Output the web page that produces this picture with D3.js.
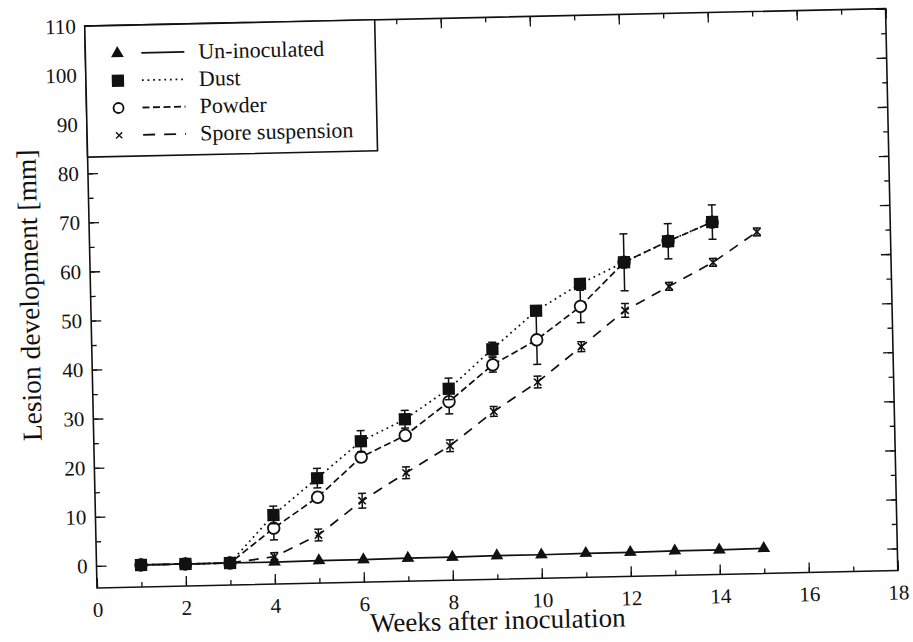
<!DOCTYPE html>
<html>
<head>
<meta charset="utf-8">
<script src="https://cdn.jsdelivr.net/npm/d3@7"></script>
<style>
    body { margin: 0; background: #fff; }
    #chart-area { width: 913px; height: 642px; }
    text { font-family: "Liberation Serif", "Times New Roman", serif; fill: #111; }
</style>
</head>
<body>
<div id="chart-area"></div>
<script>

// weeks after inoculation
const weeks = [1, 2, 3, 4, 5, 6, 7, 8, 9, 10, 11, 12, 13, 14, 15];

// lesion development [mm]
const uninoculated = [0, 0, 0, 0, 0.1, 0.1, 0.2, 0.2, 0.3, 0.3, 0.4, 0.4, 0.5, 0.5, 0.6];

const dust    = [0, 0, 0, 9.6, 16.9, 24.2, 28.5, 34.5, 42.4, 50.0, 55.3, 59.5, 63.6, 67.3];
const dustErr = [0, 0.3, 0, 1.8, 2.0, 2.2, 1.8, 2.2, 1.4, 0.9, 0.7, 5.8, 3.6, 3.5];

const powder    = [0, 0, 0, 6.9, 13.0, 21.0, 25.2, 31.9, 39.2, 44.1, 50.7, 59.5, 63.6, 67.3];
const powderErr = [0, 0, 0, 2.4, 1.0, 1.0, 1.0, 2.5, 1.5, 5.0, 3.3, 0, 0, 0];

const spore    = [0, 0, 0, 1.1, 5.3, 12.1, 17.6, 22.9, 29.7, 35.5, 42.5, 49.7, 54.4, 59.1, 65.1];
const sporeErr = [0, 0, 0, 0.8, 1.2, 1.5, 1.2, 1.2, 1.0, 1.2, 1.0, 1.4, 0.8, 0.8, 0.8];

// tick labels
const xTicks = [0, 2, 4, 6, 8, 10, 12, 14, 16, 18];
const xMinorTicks = d3.range(0, 19, 1);
const yTicks = [0, 10, 20, 30, 40, 50, 60, 70, 80, 90, 100, 110];
const yMinorTicks = d3.range(0, 111, 5);

const legendLabels = ["Un-inoculated", "Dust", "Powder", "Spore suspension"];


class LesionChart {

    constructor(parentElement) {
        this.parentElement = parentElement;
        this.initVis();
    }

    initVis() {
        let vis = this;

        vis.width = 913;
        vis.height = 642;
        vis.plot = {left: 97, right: 898, top: 26, bottom: 588};

        vis.svg = d3.select("#" + vis.parentElement).append("svg")
            .attr("width", vis.width)
            .attr("height", vis.height);

        // the scanned figure is tilted a little, so turn the whole chart with it
        vis.g = vis.svg.append("g")
            .attr("transform", `rotate(-1.25, ${vis.plot.left}, ${vis.plot.bottom})`);

        // add scales
        vis.x = d3.scaleLinear()
            .domain([0, 18])
            .range([vis.plot.left, vis.plot.right]);

        vis.y = d3.scaleLinear()
            .domain([-4.5, 110])
            .range([vis.plot.bottom, vis.plot.top]);

        vis.wrangleData();
    }

    wrangleData() {
        let vis = this;

        let build = (vals, errs) => vals.map((v, i) => ({week: weeks[i], value: v, err: errs ? errs[i] : 0}));

        vis.series = [
            {key: "un", data: build(uninoculated, null), dash: null, symbol: d3.symbolTriangle, size: 70},
            {key: "spore", data: build(spore, sporeErr), dash: "10,8", symbol: d3.symbolTimes || d3.symbolX, size: 36},
            {key: "powder", data: build(powder, powderErr), dash: "7,3.5", symbol: d3.symbolCircle, size: 0},
            {key: "dust", data: build(dust, dustErr), dash: "1.8,3.8", symbol: d3.symbolSquare, size: 150}
        ];

        vis.updateVis();
    }

    drawMarker(sel, s) {
        if (s.key === "powder") {
            sel.append("circle")
                .attr("r", 5.8)
                .attr("fill", "#fff")
                .attr("stroke", "#111")
                .attr("stroke-width", 1.8);
        } else if (s.key === "spore") {
            sel.append("path")
                .attr("d", d3.symbol().type(s.symbol).size(s.size))
                .attr("fill", "none")
                .attr("stroke", "#111")
                .attr("stroke-width", 1.6);
        } else {
            sel.append("path")
                .attr("d", d3.symbol().type(s.symbol).size(s.size))
                .attr("fill", "#111");
        }
    }

    updateVis() {
        let vis = this;

        // axes with inward ticks on all four sides
        let axes = [
            {axis: d3.axisBottom(vis.x), pos: `translate(0,${vis.plot.bottom})`, major: xTicks, minor: xMinorTicks, label: true},
            {axis: d3.axisTop(vis.x), pos: `translate(0,${vis.plot.top})`, major: xTicks, minor: xMinorTicks, label: false},
            {axis: d3.axisLeft(vis.y), pos: `translate(${vis.plot.left},0)`, major: yTicks, minor: yMinorTicks, label: true},
            {axis: d3.axisRight(vis.y), pos: `translate(${vis.plot.right},0)`, major: yTicks, minor: yMinorTicks, label: false}
        ];

        axes.forEach((a, i) => {
            // minor ticks first, no labels
            vis.g.append("g")
                .attr("class", "axis minor")
                .attr("transform", a.pos)
                .call(a.axis.tickValues(a.minor).tickSize(-5).tickFormat(""))
                .call(g => g.select(".domain").remove());

            vis.g.append("g")
                .attr("class", "axis major")
                .attr("transform", a.pos)
                .call(a.axis.tickValues(a.major).tickSize(-10)
                    .tickPadding(i < 2 ? 14 : 9)
                    .tickFormat(a.label ? d3.format("d") : ""))
                .call(g => g.select(".domain").remove());
        });

        vis.g.selectAll(".axis line")
            .attr("stroke", "#111")
            .attr("stroke-width", 1.3);

        vis.g.selectAll(".axis text")
            .attr("font-size", 21)
            .attr("font-family", "Liberation Serif, serif")
            .attr("fill", "#111");

        // plot frame
        vis.g.append("rect")
            .attr("x", vis.plot.left)
            .attr("y", vis.plot.top)
            .attr("width", vis.plot.right - vis.plot.left)
            .attr("height", vis.plot.bottom - vis.plot.top)
            .attr("fill", "none")
            .attr("stroke", "#111")
            .attr("stroke-width", 1.6);

        // axis titles
        vis.g.append("text")
            .attr("x", 497)
            .attr("y", 638)
            .attr("text-anchor", "middle")
            .attr("font-size", 27)
            .text("Weeks after inoculation");

        vis.g.append("text")
            .attr("transform", "translate(45,294) rotate(-90)")
            .attr("text-anchor", "middle")
            .attr("font-size", 27.5)
            .text("Lesion development [mm]");

        // lines
        let line = d3.line()
            .x(d => vis.x(d.week))
            .y(d => vis.y(d.value));

        vis.g.selectAll(".series-line")
            .data(vis.series)
            .enter().append("path")
            .attr("class", "series-line")
            .attr("d", d => line(d.data))
            .attr("fill", "none")
            .attr("stroke", "#111")
            .attr("stroke-width", 1.7)
            .attr("stroke-dasharray", d => d.dash);

        // error bars and markers, drawn series by series so dust ends on top
        vis.series.forEach(s => {
            let grp = vis.g.append("g").attr("class", "series-" + s.key);

            let withErr = s.data.filter(d => d.err > 0);

            let bars = grp.selectAll(".err")
                .data(withErr)
                .enter().append("g")
                .attr("class", "err")
                .attr("stroke", "#111")
                .attr("stroke-width", 1.5);

            bars.append("line")
                .attr("x1", d => vis.x(d.week))
                .attr("x2", d => vis.x(d.week))
                .attr("y1", d => vis.y(d.value - d.err))
                .attr("y2", d => vis.y(d.value + d.err));

            [-1, 1].forEach(sign => {
                bars.append("line")
                    .attr("x1", d => vis.x(d.week) - 4)
                    .attr("x2", d => vis.x(d.week) + 4)
                    .attr("y1", d => vis.y(d.value + sign * d.err))
                    .attr("y2", d => vis.y(d.value + sign * d.err));
            });

            grp.selectAll(".marker")
                .data(s.data)
                .enter().append("g")
                .attr("class", "marker")
                .attr("transform", d => `translate(${vis.x(d.week)},${vis.y(d.value)})`)
                .each(function () {
                    vis.drawMarker(d3.select(this), s);
                });
        });

        // legend box in the upper left corner
        let legend = vis.g.append("g").attr("class", "legend");

        legend.append("rect")
            .attr("x", vis.plot.left)
            .attr("y", vis.plot.top)
            .attr("width", 290)
            .attr("height", 131)
            .attr("fill", "#fff")
            .attr("stroke", "#111")
            .attr("stroke-width", 1.6);

        let legendOrder = ["un", "dust", "powder", "spore"];
        let legendDash = {un: null, dust: "1.8,3.8", powder: "7,3.5", spore: "12,9"};

        legendOrder.forEach((key, i) => {
            let s = vis.series.find(d => d.key === key);
            let yPos = 54 + i * 27.3;
            let item = legend.append("g").attr("transform", `translate(0,${yPos})`);

            let m = item.append("g").attr("transform", `translate(129,0)`);
            vis.drawMarker(m, s);
            if (key === "spore") m.attr("transform", "translate(129,0) scale(0.85)");
            if (key === "powder") m.select("circle").attr("r", 5);

            item.append("line")
                .attr("x1", 153)
                .attr("x2", 196)
                .attr("y1", 0)
                .attr("y2", 0)
                .attr("stroke", "#111")
                .attr("stroke-width", 1.8)
                .attr("stroke-dasharray", legendDash[key]);

            item.append("text")
                .attr("x", 210)
                .attr("y", 7)
                .attr("font-size", 22)
                .text(legendLabels[i]);
        });
    }
}

let lesionChart = new LesionChart("chart-area");

</script>
</body>
</html>
